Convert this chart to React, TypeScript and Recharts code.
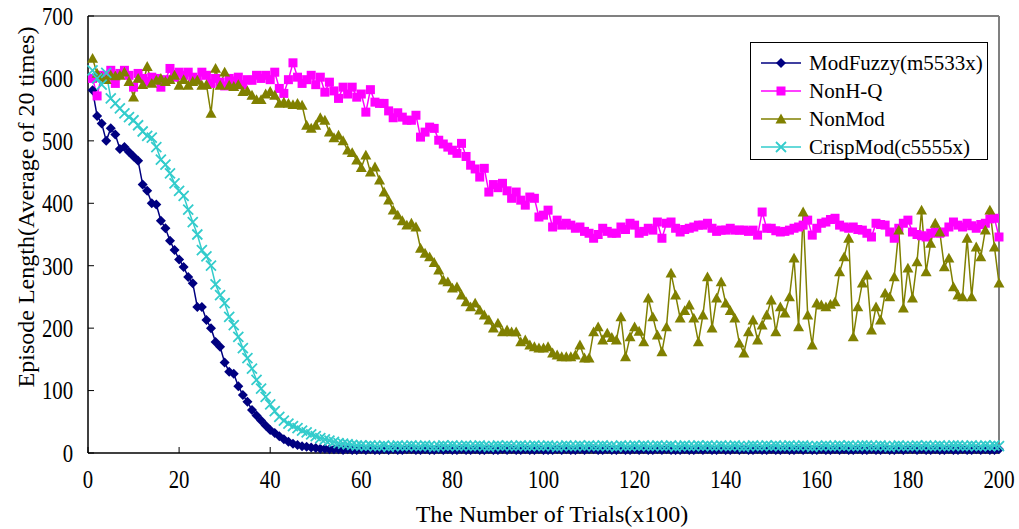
import React from 'react';
import { LineChart, Line, XAxis, YAxis, ReferenceLine } from 'recharts';

const FONT = "'Liberation Serif', 'Times New Roman', serif";

// Episode length per trial block (x100), trial 1..200
const modFuzzy = [
  581, 540, 528, 500, 520, 510, 487, 490, 482, 475,
  468, 430, 420, 400, 398, 372, 360, 340, 325, 310,
  298, 282, 272, 234, 234, 213, 200, 178, 170, 145,
  130, 127, 107, 93, 82, 69, 60, 52, 44, 37,
  32, 27, 22, 18, 15, 13, 11, 10, 9, 8,
  7, 7, 6, 6, 6, 5, 6, 5, 5, 6,
  5, 6, 5, 5, 6, 5, 6, 5, 5, 6,
  6, 5, 5, 6, 5, 5, 6, 5, 6, 5,
  5, 6, 5, 5, 6, 5, 5, 6, 5, 5,
  6, 5, 6, 5, 5, 6, 5, 5, 6, 5,
  5, 5, 6, 5, 6, 5, 5, 6, 5, 6,
  6, 5, 5, 6, 5, 5, 6, 5, 5, 6,
  5, 6, 5, 5, 6, 5, 6, 5, 5, 5,
  6, 5, 5, 6, 5, 6, 5, 5, 6, 5,
  5, 6, 5, 6, 5, 5, 6, 5, 5, 6,
  5, 5, 6, 5, 5, 6, 5, 6, 5, 5,
  6, 5, 5, 6, 5, 6, 5, 5, 6, 5,
  5, 6, 5, 5, 6, 5, 5, 6, 5, 6,
  6, 5, 6, 5, 5, 6, 5, 5, 6, 5,
  5, 6, 5, 5, 6, 5, 6, 5, 5, 6,
];

const nonHQ = [
  600, 572, 605, 600, 613, 592, 608, 613, 605, 586,
  608, 600, 595, 602, 600, 586, 598, 616, 602, 610,
  605, 610, 602, 598, 610, 605, 592, 600, 594, 588,
  600, 596, 602, 590, 598, 597, 605, 600, 605, 598,
  610, 584, 576, 598, 625, 602, 592, 598, 605, 590,
  602, 578, 594, 580, 568, 586, 575, 586, 570, 575,
  546, 582, 562, 560, 560, 548, 537, 545, 538, 533,
  533, 541, 506, 514, 522, 520, 501, 495, 490, 485,
  480, 496, 475, 461, 455, 442, 456, 418, 430, 425,
  432, 420, 408, 418, 405, 397, 410, 408, 378, 381,
  389, 362, 373, 365, 368, 365, 360, 362, 355, 352,
  344, 350, 360, 355, 352, 352, 362, 358, 368, 365,
  352, 355, 360, 357, 370, 344, 368, 370, 360, 354,
  358, 360, 362, 365, 365, 368, 360, 355, 357, 357,
  360, 357, 357, 357, 355, 357, 349, 386, 360, 360,
  356, 354, 355, 357, 360, 362, 365, 373, 349, 360,
  368, 370, 374, 376, 365, 362, 360, 362, 358, 357,
  352, 346, 368, 366, 365, 354, 344, 360, 368, 373,
  354, 350, 348, 346, 352, 354, 352, 354, 362, 370,
  365, 362, 368, 364, 360, 366, 368, 375, 376, 346,
];

const nonMod = [
  632, 608, 602, 598, 605, 604, 605, 610, 595, 570,
  600, 590, 619, 592, 597, 600, 595, 598, 605, 589,
  598, 589, 595, 597, 589, 590, 544, 616, 589, 610,
  589, 587, 590, 579, 580, 573, 566, 566, 575, 579,
  573, 560, 562, 560, 558, 560, 557, 525, 520, 525,
  537, 533, 514, 505, 509, 500, 485, 481, 469, 457,
  477, 450, 458, 437, 418, 405, 389, 381, 372, 365,
  368, 362, 328, 320, 314, 305, 293, 277, 274, 264,
  266, 253, 242, 234, 240, 229, 221, 213, 200, 208,
  194, 197, 194, 194, 178, 181, 173, 170, 168, 168,
  170, 160, 157, 154, 154, 154, 157, 173, 152, 152,
  194, 202, 181, 192, 185, 181, 218, 154, 186, 202,
  195, 178, 248, 218, 189, 162, 202, 288, 253, 216,
  228, 237, 216, 178, 221, 282, 200, 248, 274, 240,
  228, 216, 176, 160, 194, 213, 181, 205, 221, 245,
  194, 234, 224, 250, 312, 202, 386, 221, 173, 240,
  237, 234, 238, 242, 290, 314, 344, 186, 234, 272,
  285, 197, 234, 213, 256, 250, 282, 357, 232, 296,
  248, 306, 389, 290, 336, 368, 354, 298, 312, 266,
  253, 250, 344, 250, 330, 314, 357, 389, 330, 272,
];

const crispMod = [
  613, 600, 590, 609, 568, 560, 552, 544, 538, 533,
  525, 515, 508, 505, 490, 470, 462, 448, 432, 420,
  412, 390, 370, 350, 325, 315, 300, 270, 253, 240,
  218, 205, 186, 168, 152, 135, 117, 103, 90, 78,
  67, 58, 52, 47, 43, 40, 36, 33, 30, 27,
  24, 22, 20, 18, 16, 15, 14, 13, 12, 12,
  11, 12, 11, 11, 12, 10, 11, 12, 11, 11,
  12, 11, 11, 12, 11, 10, 11, 12, 11, 12,
  11, 11, 12, 11, 11, 12, 11, 10, 11, 12,
  11, 12, 11, 11, 12, 11, 11, 12, 11, 11,
  12, 11, 10, 11, 12, 11, 11, 12, 11, 12,
  11, 11, 12, 11, 11, 10, 12, 11, 11, 12,
  11, 12, 11, 11, 12, 11, 11, 12, 10, 11,
  12, 11, 11, 12, 11, 12, 11, 11, 12, 11,
  11, 12, 11, 10, 11, 12, 11, 11, 12, 11,
  12, 11, 11, 12, 11, 11, 12, 11, 10, 11,
  11, 12, 11, 11, 12, 11, 12, 11, 11, 12,
  12, 11, 11, 12, 11, 10, 11, 12, 11, 11,
  11, 12, 11, 12, 11, 11, 12, 11, 11, 12,
  12, 11, 11, 12, 11, 11, 12, 11, 12, 11,
];

const xTicks = [0, 20, 40, 60, 80, 100, 120, 140, 160, 180, 200];
const yTicks = [0, 100, 200, 300, 400, 500, 600, 700];

const data = modFuzzy.map((v, i) => ({
  trial: i + 1,
  modFuzzy: v,
  nonHQ: nonHQ[i],
  nonMod: nonMod[i],
  crispMod: crispMod[i],
}));

type Shape = 'diamond' | 'square' | 'triangle' | 'cross';

const marker = (shape: Shape, cx: number, cy: number, color: string, key?: string | number) => {
  if (shape === 'diamond') {
    const r = 5;
    return <path key={key} d={`M${cx},${cy - r}L${cx + r},${cy}L${cx},${cy + r}L${cx - r},${cy}Z`} fill={color} />;
  }
  if (shape === 'square') {
    const r = 4.5;
    return <rect key={key} x={cx - r} y={cy - r} width={r * 2} height={r * 2} fill={color} />;
  }
  if (shape === 'triangle') {
    const r = 5.5;
    return <path key={key} d={`M${cx},${cy - r}L${cx + r},${cy + r * 0.8}L${cx - r},${cy + r * 0.8}Z`} fill={color} />;
  }
  const r = 5;
  return (
    <path
      key={key}
      d={`M${cx - r},${cy - r}L${cx + r},${cy + r}M${cx - r},${cy + r}L${cx + r},${cy - r}`}
      stroke={color}
      strokeWidth={1.8}
      fill="none"
    />
  );
};

const dotFor = (shape: Shape, color: string) => (props: any) => {
  const { cx, cy, index } = props;
  if (cx == null || cy == null) return <g key={`n${index}`} />;
  return marker(shape, cx, cy, color, `${shape}-${index}`);
};

const SERIES = [
  { key: 'modFuzzy', name: 'ModFuzzy(m5533x)', color: '#000080', shape: 'diamond' as Shape },
  { key: 'nonHQ', name: 'NonH-Q', color: '#FF00FF', shape: 'square' as Shape },
  { key: 'nonMod', name: 'NonMod', color: '#808000', shape: 'triangle' as Shape },
  { key: 'crispMod', name: 'CrispMod(c5555x)', color: '#33CCCC', shape: 'cross' as Shape },
];

// tick digits in the figure are tall and narrow, so squeeze them horizontally
const renderTick = (anchor: 'middle' | 'end', dy: string) => (props: any) => (
  <text
    key={`t-${anchor}-${props.payload.value}`}
    transform={`translate(${props.x},${props.y}) scale(0.83,1)`}
    dy={dy}
    textAnchor={anchor}
    fontSize={25}
    fontFamily={FONT}
    fill="#000"
    style={{ fontFamily: FONT }}
  >
    {props.payload.value}
  </text>
);

export default function App() {
  return (
    <div
      style={{
        position: 'absolute',
        left: 0,
        top: 0,
        width: 1019,
        height: 529,
        background: '#fff',
        fontFamily: FONT,
      }}
    >
      <LineChart width={1019} height={529} data={data} margin={{ top: 16, right: 20, left: 0, bottom: 0 }}>
        <XAxis
          dataKey="trial"
          type="number"
          domain={[0, 200]}
          ticks={xTicks}
          height={76}
          tickSize={-6}
          tickMargin={23}
          tick={renderTick('middle', '0.71em')}
          axisLine={{ stroke: '#000', strokeWidth: 1.5 }}
          tickLine={{ stroke: '#000' }}
          label={{
            content: () => (
              <text x={552} y={522} textAnchor="middle" fontSize={24} fill="#000" style={{ fontFamily: FONT }}>
                The Number of Trials(x100)
              </text>
            ),
          }}
        />
        <YAxis
          type="number"
          domain={[0, 700]}
          ticks={yTicks}
          width={88}
          tickSize={-6}
          tickMargin={21}
          tick={renderTick('end', '0.355em')}
          axisLine={{ stroke: '#000', strokeWidth: 1.5 }}
          tickLine={{ stroke: '#000' }}
          label={{
            content: () => (
              <text
                x={34}
                y={207}
                transform="rotate(-90 34 207)"
                textAnchor="middle"
                fontSize={24}
                fill="#000"
                style={{ fontFamily: FONT }}
              >
                Episode Length(Average of 20 times)
              </text>
            ),
          }}
        />
        <ReferenceLine y={700} stroke="#808080" strokeWidth={2} />
        <ReferenceLine x={200} stroke="#808080" strokeWidth={2} />
        {SERIES.map((s) => (
          <Line
            key={s.key}
            dataKey={s.key}
            name={s.name}
            stroke={s.color}
            strokeWidth={1.5}
            dot={dotFor(s.shape, s.color)}
            activeDot={false}
            isAnimationActive={false}
          />
        ))}
      </LineChart>
      <div
        style={{
          position: 'absolute',
          left: 750,
          top: 42,
          width: 236,
          height: 116,
          border: '1.5px solid #000',
          background: '#fff',
          fontSize: 21,
          color: '#000',
        }}
      >
        {SERIES.map((s, i) => (
          <div
            key={s.key}
            style={{ position: 'absolute', left: 8, top: 6 + i * 28, height: 28, display: 'flex', alignItems: 'center' }}
          >
            <svg width={44} height={20} style={{ marginRight: 6 }}>
              <line x1={2} y1={10} x2={42} y2={10} stroke={s.color} strokeWidth={1.5} />
              {marker(s.shape, 22, 10, s.color)}
            </svg>
            <span style={{ whiteSpace: 'nowrap', lineHeight: '28px' }}>{s.name}</span>
          </div>
        ))}
      </div>
    </div>
  );
}
